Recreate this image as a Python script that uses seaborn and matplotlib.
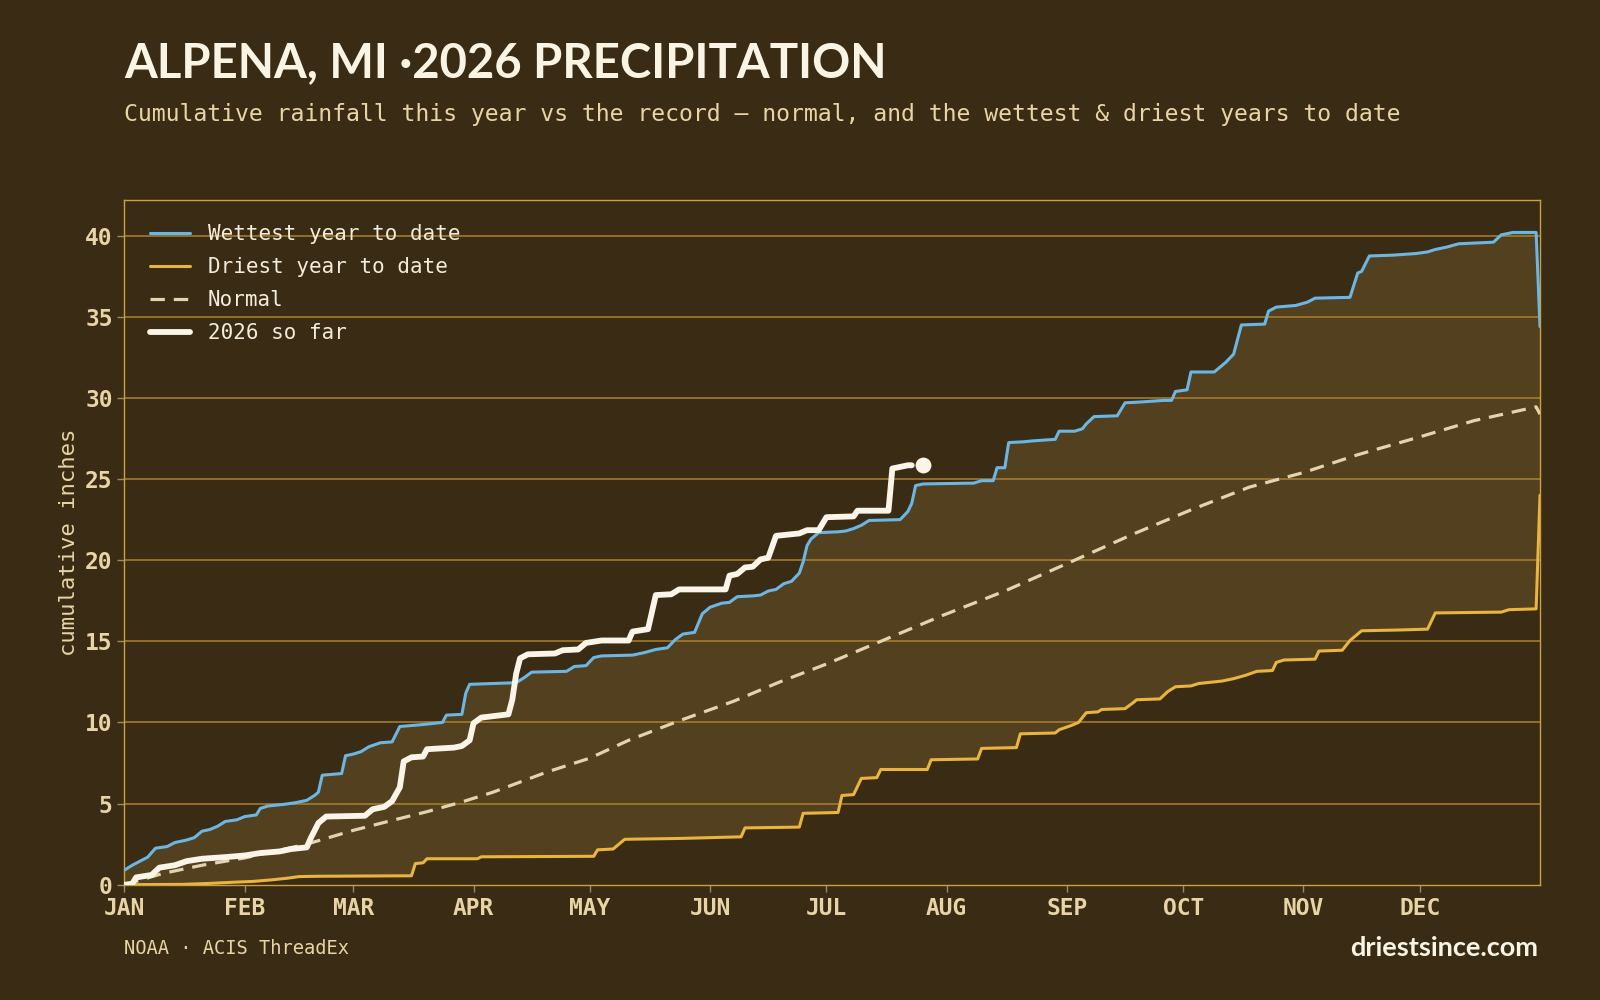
import numpy as np
import pandas as pd
import seaborn as sns
import matplotlib.pyplot as plt
from matplotlib.lines import Line2D

# cumulative readings (day of year, inches)
wet_days = [0, 2, 4, 6, 8, 11, 13, 16, 18, 20, 22, 24, 26, 29, 31, 34, 35, 37, 41, 44, 47, 49, 50, 51,
            56, 57, 59, 61, 63, 66, 69, 71, 76, 80, 82, 83, 87, 88, 89, 101, 103, 105, 114, 116, 119,
            121, 123, 131, 134, 137, 140, 142, 144, 147, 149, 151, 154, 156, 158, 162, 164, 166, 168,
            170, 172, 174, 175, 176, 177, 179, 184, 186, 188, 190, 192, 200, 202, 203, 204, 206, 219,
            221, 224, 225, 227, 228, 232, 234, 240, 241, 245, 247, 248, 250, 256, 258, 262, 268, 270,
            271, 274, 275, 281, 283, 284, 286, 288, 294, 295, 297, 302, 305, 307, 316, 318, 319, 321,
            327, 333, 336, 338, 341, 344, 353, 355, 357, 358, 364, 365]
wet_vals = [0.9, 1.2, 1.45, 1.7, 2.25, 2.35, 2.6, 2.75, 2.9, 3.3, 3.4, 3.6, 3.9, 4.0, 4.2, 4.3, 4.7, 4.85,
            4.95, 5.05, 5.2, 5.5, 5.7, 6.75, 6.85, 7.95, 8.05, 8.2, 8.5, 8.75, 8.8, 9.75, 9.85, 9.95,
            10.0, 10.45, 10.5, 11.8, 12.35, 12.45, 12.75, 13.1, 13.15, 13.45, 13.5, 14.0, 14.1, 14.15,
            14.3, 14.5, 14.6, 15.1, 15.45, 15.55, 16.7, 17.1, 17.35, 17.4, 17.75, 17.8, 17.85, 18.1,
            18.2, 18.55, 18.7, 19.2, 19.9, 20.9, 21.3, 21.7, 21.75, 21.8, 21.95, 22.15, 22.45, 22.5,
            23.0, 23.5, 24.6, 24.7, 24.75, 24.9, 24.9, 25.7, 25.7, 27.25, 27.3, 27.35, 27.45, 27.95,
            27.95, 28.1, 28.4, 28.85, 28.9, 29.7, 29.75, 29.85, 29.85, 30.4, 30.5, 31.6, 31.6, 32.0,
            32.2, 32.7, 34.5, 34.55, 35.35, 35.6, 35.7, 35.9, 36.15, 36.2, 37.7, 37.8, 38.75, 38.8,
            38.9, 39.0, 39.15, 39.3, 39.5, 39.6, 40.05, 40.15, 40.2, 40.2, 34.4]

dry_days = [0, 15, 22, 28, 33, 38, 42, 45, 50, 74, 75, 77, 78, 91, 92, 121, 122, 126, 129, 143, 159, 160,
            174, 175, 184, 185, 188, 190, 194, 195, 207, 208, 220, 221, 230, 231, 240, 241, 244, 246,
            248, 251, 252, 258, 260, 261, 267, 269, 271, 275, 277, 283, 286, 289, 292, 296, 297, 299,
            307, 308, 314, 316, 319, 329, 336, 338, 355, 357, 364, 365]
dry_vals = [0.0, 0.02, 0.08, 0.15, 0.2, 0.3, 0.4, 0.5, 0.52, 0.55, 1.3, 1.35, 1.6, 1.6, 1.72, 1.75, 2.15,
            2.2, 2.8, 2.85, 2.95, 3.5, 3.55, 4.4, 4.45, 5.5, 5.55, 6.55, 6.6, 7.1, 7.1, 7.7, 7.75, 8.4,
            8.45, 9.3, 9.35, 9.55, 9.8, 10.0, 10.6, 10.65, 10.8, 10.85, 11.2, 11.4, 11.45, 11.9, 12.2,
            12.25, 12.4, 12.55, 12.7, 12.9, 13.15, 13.2, 13.7, 13.85, 13.9, 14.4, 14.45, 15.05, 15.65,
            15.7, 15.75, 16.75, 16.8, 16.95, 17.0, 24.0]

normal_days = [0, 10, 20, 31, 47, 59, 68, 78, 87, 95, 109, 120, 130, 143, 157, 169, 181, 195, 211, 227,
               245, 260, 275, 290, 304, 318, 334, 348, 364, 365]
normal_vals = [0.0, 0.7, 1.2, 1.65, 2.5, 3.35, 3.9, 4.5, 5.1, 5.7, 6.95, 7.8, 8.9, 10.1, 11.3, 12.5, 13.6,
               15.0, 16.6, 18.1, 20.0, 21.6, 23.1, 24.5, 25.4, 26.5, 27.6, 28.6, 29.45, 29.0]

ytd_days = [0, 2, 3, 7, 9, 13, 16, 20, 26, 31, 35, 40, 43, 47, 48, 50, 52, 62, 64, 67, 69, 71, 72, 74, 77,
            78, 85, 87, 89, 90, 92, 99, 100, 101, 102, 104, 111, 113, 117, 119, 123, 130, 131, 135, 137,
            141, 143, 155, 156, 158, 160, 162, 164, 166, 168, 172, 174, 176, 179, 181, 188, 189, 197,
            198, 202, 203]
ytd_vals = [0.0, 0.05, 0.45, 0.6, 1.05, 1.2, 1.45, 1.6, 1.7, 1.8, 1.95, 2.05, 2.2, 2.3, 2.85, 3.8, 4.2,
            4.25, 4.65, 4.8, 5.15, 6.0, 7.6, 7.85, 7.9, 8.35, 8.45, 8.55, 8.9, 9.95, 10.3, 10.5, 11.4,
            13.0, 13.95, 14.2, 14.25, 14.45, 14.5, 14.9, 15.05, 15.05, 15.6, 15.75, 17.85, 17.9, 18.2,
            18.2, 19.05, 19.15, 19.55, 19.6, 20.05, 20.15, 21.5, 21.6, 21.65, 21.85, 21.85, 22.65, 22.7,
            23.05, 23.05, 25.65, 25.85, 25.85]
latest_day = 206
latest_total = 25.85

month_starts = [0, 31, 59, 90, 120, 151, 181, 212, 243, 273, 304, 334]
month_labels = ['JAN', 'FEB', 'MAR', 'APR', 'MAY', 'JUN', 'JUL', 'AUG', 'SEP', 'OCT', 'NOV', 'DEC']

BG = '#3a2c14'
FILL = '#53401e'
GOLD = '#c9a042'
GRID = '#a9822f'
BLUE = '#6cb6e4'
YELLOW = '#e9b440'
NORMAL = '#e3d3ae'
WHITE = '#faf5e8'
TAN = '#e8d4a6'

sns.set_theme(style='dark')
plt.rcParams['font.family'] = ['DejaVu Sans Mono', 'DejaVu Sans']

fig = plt.figure(figsize=(16, 10), dpi=100, facecolor=BG)
ax = fig.add_axes([0.0778, 0.1153, 0.8847, 0.6847])
ax.set_facecolor(BG)

# band between driest and wettest
ax.fill(np.r_[wet_days, dry_days[::-1]], np.r_[wet_vals, dry_vals[::-1]],
        color=FILL, lw=0, zorder=1)
for v in range(5, 45, 5):
    ax.axhline(v, color=GRID, lw=1.1, zorder=1.5)

wet = pd.DataFrame({'day': wet_days, 'inches': wet_vals})
dry = pd.DataFrame({'day': dry_days, 'inches': dry_vals})
norm = pd.DataFrame({'day': normal_days, 'inches': normal_vals})
ytd = pd.DataFrame({'day': ytd_days, 'inches': ytd_vals})

sns.lineplot(data=wet, x='day', y='inches', color=BLUE, lw=2.2, estimator=None, sort=False, ax=ax, zorder=3)
sns.lineplot(data=dry, x='day', y='inches', color=YELLOW, lw=2.2, estimator=None, sort=False, ax=ax, zorder=3)
sns.lineplot(data=norm, x='day', y='inches', color=NORMAL, lw=2.3, estimator=None, sort=False, ax=ax,
             zorder=3, dashes=False, linestyle=(0, (4.5, 2.8)))
sns.lineplot(data=ytd, x='day', y='inches', color=WHITE, lw=4.2, estimator=None, sort=False, ax=ax,
             zorder=4, solid_capstyle='round', solid_joinstyle='round')
ax.scatter([latest_day], [latest_total], s=130, color=WHITE, zorder=5, linewidths=0)

ax.set_xlim(0, 365)
ax.set_ylim(0, 42.2)
ax.set_xticks(month_starts)
ax.set_xticklabels(month_labels)
ax.set_yticks(range(0, 45, 5))
ax.tick_params(axis='both', colors='#9c8a66', labelcolor=TAN, length=5, width=1,
               labelsize=16.5, bottom=True, left=True)
for lab in ax.get_xticklabels() + ax.get_yticklabels():
    lab.set_fontweight('bold')
ax.set_xlabel('')
ax.set_ylabel('cumulative inches', color=TAN, fontsize=16)
ax.yaxis.set_label_coords(-0.032, 0.5)
ax.grid(False)
for s in ax.spines.values():
    s.set_visible(True)
    s.set_color(GOLD)
    s.set_linewidth(1)

handles = [Line2D([], [], color=BLUE, lw=2.2),
           Line2D([], [], color=YELLOW, lw=2.2),
           Line2D([], [], color=NORMAL, lw=2.3, linestyle=(0, (4.5, 2.8))),
           Line2D([], [], color=WHITE, lw=4.2, solid_capstyle='round')]
leg = ax.legend(handles, ['Wettest year to date', 'Driest year to date', 'Normal', '2026 so far'],
                loc='upper left', bbox_to_anchor=(0.003, 0.995), frameon=False, fontsize=15,
                handlelength=1.95, handletextpad=0.85, labelspacing=0.62, borderaxespad=0.6)
for t in leg.get_texts():
    t.set_color('#f3ecdc')

fig.text(0.0778, 0.9225, 'ALPENA, MI ·2026 PRECIPITATION', family=['Lato', 'DejaVu Sans'],
         fontweight='bold', fontsize=34, color='#faf4e4', va='baseline')
fig.text(0.0778, 0.879, 'Cumulative rainfall this year vs the record — normal, and the wettest & driest years to date',
         fontsize=16.65, color=TAN, va='baseline')
fig.text(0.0778, 0.052, 'NOAA · ACIS ThreadEx', fontsize=13.5, color=TAN, va='center')
fig.text(0.9615, 0.052, 'driestsince.com', family=['Lato', 'DejaVu Sans'], fontweight='bold',
         fontsize=19.5, color='#faf4e4', va='center', ha='right')

fig.savefig('out.png', dpi=100, facecolor=BG)
